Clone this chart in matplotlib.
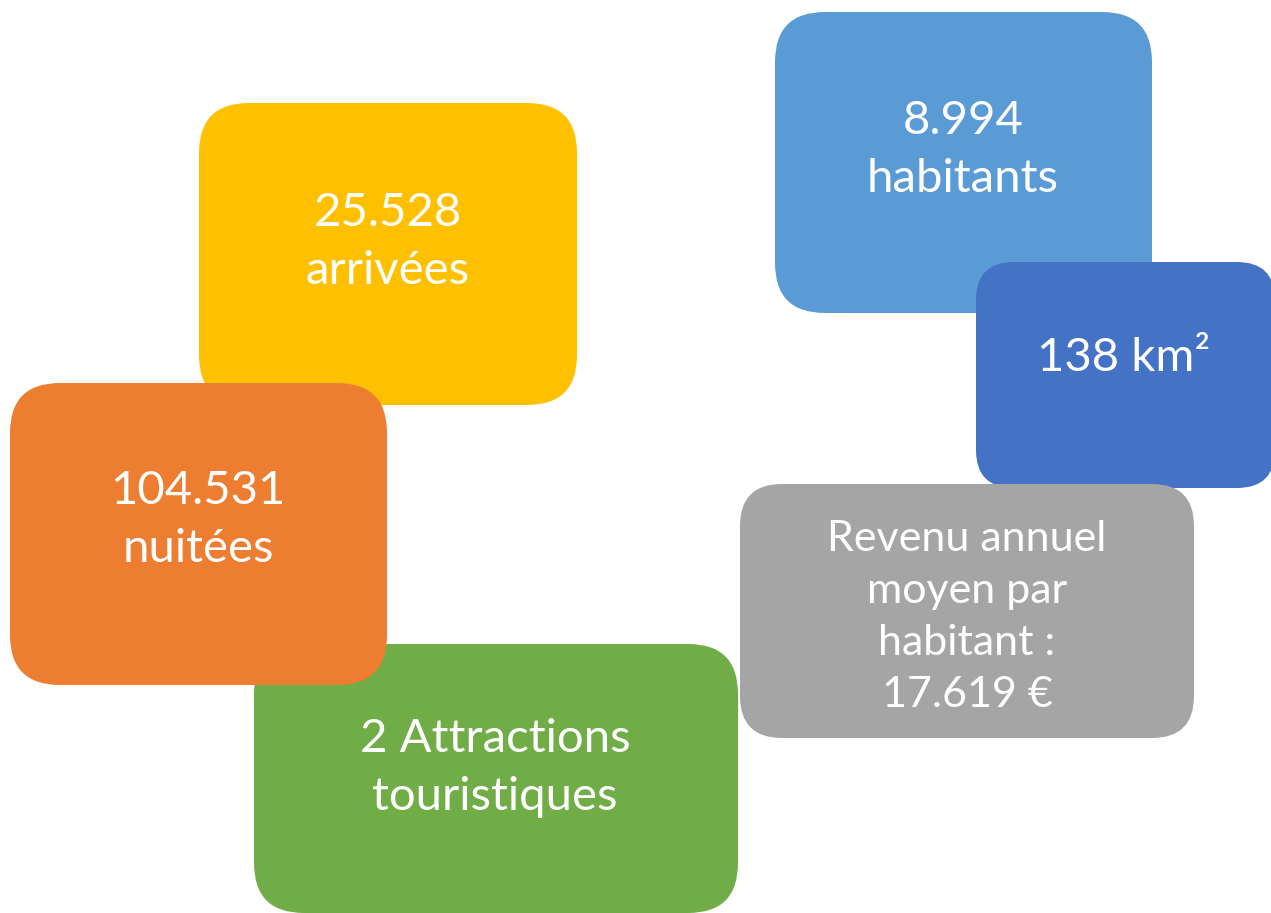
import matplotlib.pyplot as plt
from matplotlib.patches import FancyBboxPatch

plt.rcParams['font.family'] = ['Lato', 'DejaVu Sans']

# contents of each card, in drawing order (later ones sit on top)
labels = [
    "25.528\narrivées",
    "2 Attractions\ntouristiques",
    "104.531\nnuitées",
    "8.994\nhabitants",
    "138 km²",
    "Revenu annuel\nmoyen par\nhabitant :\n17.619 €",
]
colors = ["#FFC000", "#70AD47", "#ED7D31", "#5B9BD5", "#4472C4", "#A5A5A5"]

# layout in pixels: left, top, right, bottom
boxes = [
    (199, 103, 577, 405),
    (254, 644, 738, 913),
    (10, 383, 387, 685),
    (775, 12, 1152, 313),
    (976, 262, 1275, 488),
    (740, 484, 1194, 738),
]
text_pos = [(388, 242), (495, 768), (198, 520), (963, 150), (1124, 358), (967, 617)]
font_sizes = [34, 34, 34, 34, 34, 31]
radii = [50, 50, 50, 50, 38, 42]

fig = plt.figure(figsize=(12.71, 9.13), dpi=100)
ax = fig.add_axes([0, 0, 1, 1])
ax.set_xlim(0, 1271)
ax.set_ylim(913, 0)
ax.axis('off')

for i in range(len(labels)):
    x0, y0, x1, y1 = boxes[i]
    patch = FancyBboxPatch((x0, y0), x1 - x0, y1 - y0,
                           boxstyle="round,pad=0,rounding_size=%d" % radii[i],
                           facecolor=colors[i], edgecolor="none", zorder=i + 1)
    ax.add_patch(patch)
    ax.text(text_pos[i][0], text_pos[i][1], labels[i], color="white",
            fontsize=font_sizes[i], ha="center", va="center",
            linespacing=1.45, zorder=i + 1.5)

fig.savefig("out.png", dpi=100, facecolor="white")
